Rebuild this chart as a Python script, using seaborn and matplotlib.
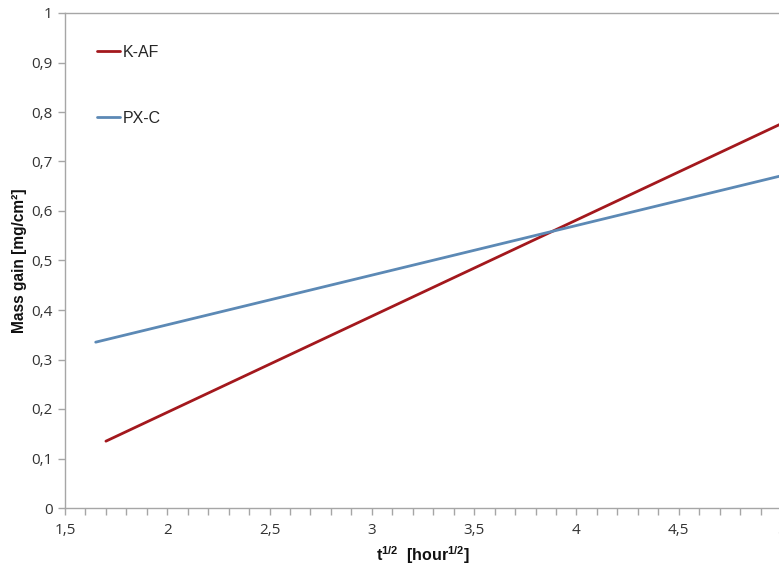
import matplotlib
matplotlib.use("Agg")
import matplotlib.pyplot as plt
from matplotlib.ticker import MultipleLocator, FuncFormatter
import seaborn as sns
import pandas as pd

# Fitted mass-gain lines vs square root of time
kaf_x = [1.70, 5.00]
kaf_y = [0.135, 0.776]
pxc_x = [1.65, 5.00]
pxc_y = [0.335, 0.671]
series_names = ["K-AF", "PX-C"]
series_colors = ["#A3181D", "#5C89B5"]

df = pd.concat([
    pd.DataFrame({"t": kaf_x, "gain": kaf_y, "series": series_names[0]}),
    pd.DataFrame({"t": pxc_x, "gain": pxc_y, "series": series_names[1]}),
])

sns.set_theme(style="white")
plt.rcParams["font.family"] = ["Liberation Sans", "DejaVu Sans"]
plt.rcParams["mathtext.fontset"] = "custom"
plt.rcParams["mathtext.rm"] = "Liberation Sans"
plt.rcParams["mathtext.bf"] = "Liberation Sans:bold"

fig = plt.figure(figsize=(7.79, 5.67), dpi=100)
ax = fig.add_axes([65 / 779, 1 - 508 / 567, 716 / 779, 495 / 567])

sns.lineplot(data=df, x="t", y="gain", hue="series", hue_order=series_names,
             palette=series_colors, linewidth=2.0, ax=ax, legend=True)

ax.set_xlim(1.5, 5.0)
ax.set_ylim(0, 1)
ax.xaxis.set_major_locator(MultipleLocator(0.5))
ax.xaxis.set_minor_locator(MultipleLocator(0.1))
ax.yaxis.set_major_locator(MultipleLocator(0.1))

comma = FuncFormatter(lambda v, p: ("%g" % round(v, 2)).replace(".", ","))
ax.xaxis.set_major_formatter(comma)
ax.yaxis.set_major_formatter(comma)

spine_color = "#A6A6A6"
for side in ["left", "bottom", "top"]:
    ax.spines[side].set_visible(True)
    ax.spines[side].set_color(spine_color)
    ax.spines[side].set_linewidth(1.0)
ax.spines["right"].set_visible(False)

ax.tick_params(axis="both", which="both", direction="out", color=spine_color,
               width=1.0, labelsize=11, labelcolor="#333333")
ax.tick_params(axis="x", which="major", length=5, bottom=True, pad=6)
ax.tick_params(axis="x", which="minor", length=5, bottom=True)
ax.tick_params(axis="y", which="major", length=5, left=True, pad=4)
for lab in ax.get_xticklabels() + ax.get_yticklabels():
    lab.set_family(["Open Sans", "DejaVu Sans"])

ax.set_xlabel(r"$\mathbf{t^{1/2}}$  [hour$^{\mathbf{1/2}}$]",
              fontsize=11.5, fontweight="bold", color="#111111", labelpad=4)
ax.set_ylabel("Mass gain [mg/cm²]",
              fontsize=11.2, fontweight="bold", color="#111111")
ax.yaxis.set_label_coords(-0.053, 0.5)

leg = ax.legend(loc="upper left", bbox_to_anchor=(0.025, 0.965), frameon=False,
                fontsize=11.5, handlelength=1.4, handletextpad=0.2,
                labelspacing=3.2)
for line in leg.get_lines():
    line.set_linewidth(2.0)

fig.savefig("out.png", dpi=100)
